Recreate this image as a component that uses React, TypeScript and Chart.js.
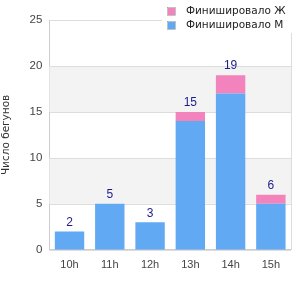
import React, { useEffect, useRef } from "react";
import { Chart, registerables } from "chart.js";
Chart.register(...registerables);

const categories = ["10h", "11h", "12h", "13h", "14h", "15h"];
const finishedM = [2, 5, 3, 14, 17, 5];
const finishedF = [0, 0, 0, 1, 2, 1];
const yTicks = [0, 5, 10, 15, 20, 25];
const labelM = "Финишировало М";
const labelF = "Финишировало Ж";
const yTitle = "Число бегунов";

const FONT = "'Liberation Sans', Arial, sans-serif";
const LFONT = "'DejaVu Sans', sans-serif";
const BLUE = "#62a9f3";
const PINK = "#f283bc";

const bandsPlugin = {
  id: "bands",
  beforeDatasetsDraw(chart: any) {
    const { ctx, chartArea, scales } = chart;
    const y = scales.y;
    ctx.save();
    ctx.fillStyle = "#f3f3f3";
    for (let i = 1; i < yTicks.length - 1; i += 2) {
      const top = y.getPixelForValue(yTicks[i + 1]);
      const bot = y.getPixelForValue(yTicks[i]);
      ctx.fillRect(chartArea.left, top, chartArea.right - chartArea.left, bot - top);
    }
    ctx.strokeStyle = "#dddddd";
    ctx.lineWidth = 1;
    for (const v of yTicks) {
      const py = Math.round(y.getPixelForValue(v)) + 0.5;
      ctx.beginPath();
      ctx.moveTo(chartArea.left, py);
      ctx.lineTo(chartArea.right, py);
      ctx.stroke();
    }
    const rx = Math.round(chartArea.right) + 0.5;
    ctx.beginPath();
    ctx.moveTo(rx, chartArea.top);
    ctx.lineTo(rx, chartArea.bottom);
    ctx.stroke();
    ctx.restore();
  },
};

const labelsPlugin = {
  id: "totals",
  afterDatasetsDraw(chart: any) {
    const { ctx } = chart;
    const metaF = chart.getDatasetMeta(1);
    ctx.save();
    ctx.fillStyle = "#1c1c8a";
    ctx.font = `12px ${FONT}`;
    ctx.textAlign = "center";
    ctx.textBaseline = "bottom";
    metaF.data.forEach((bar: any, i: number) => {
      const total = finishedM[i] + finishedF[i];
      ctx.fillText(String(total), bar.x, bar.y - 3);
    });
    ctx.restore();
  },
};

const legendPlugin = {
  id: "customLegend",
  afterDraw(chart: any) {
    const { ctx } = chart;
    const items = [
      { label: labelF, color: PINK },
      { label: labelM, color: BLUE },
    ];
    ctx.save();
    ctx.fillStyle = "#ffffff";
    ctx.fillRect(162, 0, 138, 33);
    ctx.font = `10.5px ${LFONT}`;
    ctx.textBaseline = "middle";
    ctx.textAlign = "left";
    items.forEach((it, i) => {
      const cy = 11.5 + i * 14;
      ctx.fillStyle = it.color;
      ctx.fillRect(168, cy - 3.5, 7, 7);
      ctx.strokeStyle = "#999";
      ctx.lineWidth = 0.6;
      ctx.strokeRect(167.5, cy - 4, 8, 8);
      ctx.fillStyle = "#222";
      ctx.fillText(it.label, 186, cy);
    });
    ctx.restore();
  },
};

export default function App() {
  const ref = useRef<HTMLCanvasElement>(null);
  useEffect(() => {
    document.body.style.margin = "0";
    const chart = new Chart(ref.current!, {
      type: "bar",
      data: {
        labels: categories,
        datasets: [
          { label: labelM, data: finishedM, backgroundColor: BLUE, barPercentage: 0.73, categoryPercentage: 1 },
          { label: labelF, data: finishedF, backgroundColor: PINK, barPercentage: 0.73, categoryPercentage: 1 },
        ],
      },
      options: {
        animation: false,
        responsive: false,
        layout: { padding: { top: 20, right: 9, bottom: 19, left: 0 } },
        plugins: { legend: { display: false }, tooltip: { enabled: false } },
        scales: {
          x: {
            stacked: true,
            grid: { display: false, drawTicks: false },
            border: { color: "#cccccc" },
            ticks: { color: "#444", font: { family: FONT, size: 11 }, padding: 9 },
          },
          y: {
            stacked: true,
            min: 0,
            max: 25,
            grid: { display: false, drawTicks: false },
            border: { color: "#cccccc" },
            ticks: { stepSize: 5, color: "#444", font: { family: FONT, size: 11.5 }, padding: 7 },
            title: { display: true, text: yTitle, color: "#333", font: { family: LFONT, size: 10.5 }, padding: { top: 0, bottom: 10 } },
          },
        },
      },
      plugins: [bandsPlugin, labelsPlugin, legendPlugin],
    });
    return () => chart.destroy();
  }, []);
  return (
    <div style={{ width: 300, height: 300 }}>
      <canvas ref={ref} width={300} height={300} />
    </div>
  );
}
